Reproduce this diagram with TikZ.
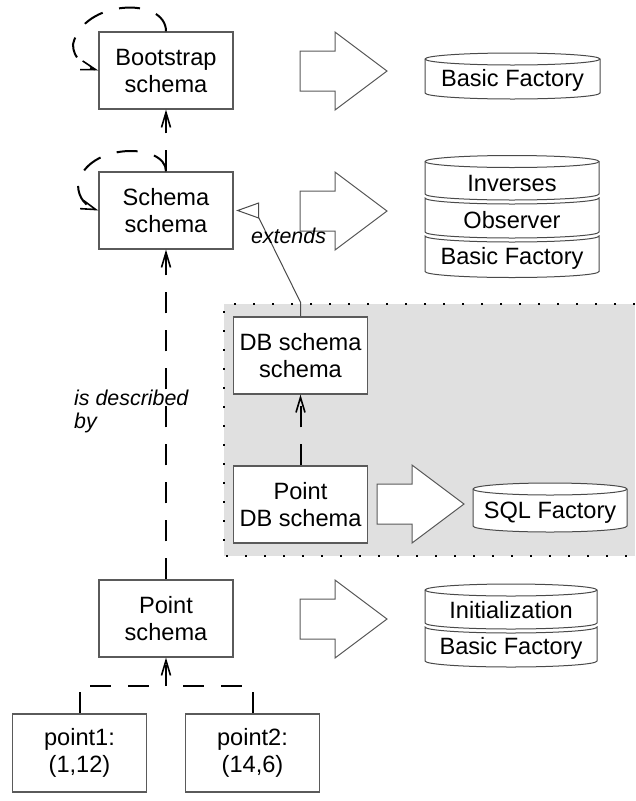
\documentclass[tikz,border=0pt]{standalone}
\usepackage{fontspec}
\setmainfont{Liberation Sans}
\usetikzlibrary{arrows.meta,calc}
\definecolor{boxline}{HTML}{5A5A5A}
\definecolor{dbcol}{HTML}{4A4A4A}
\definecolor{regionfill}{HTML}{E0E0E0}
\newcommand\dbdiscTop[4]{%
  \pgfmathsetmacro\drx{(#2-#1)/2}%
  \draw[dbline,fill=white] (#1,#3) -- (#1,#4) arc[start angle=180,end angle=360,x radius=\drx pt,y radius=6pt] -- (#2,#3) arc[start angle=0,end angle=180,x radius=\drx pt,y radius=6pt] -- cycle;
  \draw[dbline] (#1,#3) arc[start angle=180,end angle=360,x radius=\drx pt,y radius=6pt];}
\newcommand\dbdiscLow[4]{%
  \pgfmathsetmacro\drx{(#2-#1)/2}%
  \draw[dbline,fill=white] (#1,#3) -- (#1,#4) arc[start angle=180,end angle=360,x radius=\drx pt,y radius=6pt] -- (#2,#3) arc[start angle=0,end angle=-180,x radius=\drx pt,y radius=6pt] -- cycle;}
\begin{document}
\begin{tikzpicture}[x=1pt,y=-1pt,
  box/.style={draw=boxline,line width=1.3pt,fill=white,minimum width=134pt,minimum height=77pt,inner sep=0pt,align=center,font=\fontsize{23.6}{27}\selectfont},
  dbtext/.style={inner sep=0pt,font=\fontsize{23.6}{27}\selectfont},
  lbl/.style={inner sep=0pt,align=left,font=\fontsize{21.4}{23}\selectfont\itshape},
  dbline/.style={draw=dbcol,line width=1pt},
  depline/.style={line width=2pt,dash pattern=on 21pt off 17pt},
  dep/.style={depline,-{Straight Barb[length=15pt,width=9pt,line width=1.6pt]}},
  ext/.style={draw=dbcol,line width=1pt},
  blockarrow/.style={draw=boxline,line width=1pt,fill=white},
  bigarrow/.pic={\draw[blockarrow] (0,-20) -- (35,-20) -- (35,-39) -- (87,0) -- (35,39) -- (35,20) -- (0,20) -- cycle;}
]
\useasboundingbox (0,0) rectangle (635,801);
\fill[white] (0,0) rectangle (635,801);
% grey region
\fill[regionfill] (224,304) rectangle (635,556);
\draw[line width=1.6pt,dash pattern=on 1.6pt off 17.4pt] (635,304) -- (224,304) -- (224,556) -- (635,556);

% boxes
\node[box] (bs) at (166,70.5) {Bootstrap\\schema};
\node[box] (ss) at (166,210.5) {Schema\\schema};
\node[box] (dbs) at (300.5,355.5) {DB schema\\schema};
\node[box] (pdb) at (300.5,504.5) {Point\\DB schema};
\node[box] (ps) at (166,618.5) {Point\\schema};
\node[box,minimum height=78pt] (p1) at (79.5,753) {point1:\\(1,12)};
\node[box,minimum height=78pt] (p2) at (252.5,753) {point2:\\(14,6)};

% block arrows
\pic at (300,71) {bigarrow};
\pic at (300,211) {bigarrow};
\pic at (377,504) {bigarrow};
\pic at (300,619) {bigarrow};

% cylinders
\dbdiscTop{425}{600}{59}{93}
\node[dbtext] (bf1) at (512.5,80) {Basic Factory};

\dbdiscTop{425}{599}{161.5}{194}
\dbdiscLow{425}{599}{198}{232}
\dbdiscLow{425}{599}{236}{271.5}
\node[dbtext] (inv) at (512,183) {Inverses};
\node[dbtext] (obs) at (512,220.5) {Observer};
\node[dbtext] (bf2) at (512,258.5) {Basic Factory};

\dbdiscTop{473}{627}{489}{526}
\node[dbtext] (sql) at (550,513) {SQL Factory};

\dbdiscTop{425}{597}{590}{623}
\dbdiscLow{425}{597}{627}{661}
\node[dbtext] (init) at (511,610) {Initialization};
\node[dbtext] (bf3) at (511,648.5) {Basic Factory};

% self loops
\draw[dep] (bs.north) .. controls +(0,-35) and +(10,-45) .. ++(-93,13)
  .. controls +(0,15) and +(-13,-4) .. (bs.west);
\draw[dep] (ss.north) .. controls +(0,-29) and +(8,-42) .. ++(-88,13)
  .. controls +(0,15) and +(-11,-4) .. (ss.west);

% dependencies
\draw[dep] (ss.north) -- (bs.south);
\draw[dep] (ps.north) -- (ss.south);
\draw[dep] (pdb.north) -- (dbs.south);
\coordinate (j) at (166,686);
\draw[depline] (p1.north) |- (j);
\draw[depline] (p2.north) |- (j);
\draw[dep] (j) -- (ps.south);

% extends
\coordinate (et) at ($(ss.east)+(4,0)$);
\draw[ext] (dbs.north) -- ++(0,-14) -- ($(et)+(21,7)$);
\draw[ext,fill=white] (et) -- ++(21,-7.5) -- ++(0,15) -- cycle;

% labels
\node[lbl,anchor=base] (extl) at (288.5,243) {extends};
\node[lbl,anchor=base west] (isd) at (74,405) {is described};
\node[lbl,anchor=base west] (isd2) at (74,428) {by};
\end{tikzpicture}
\end{document}
